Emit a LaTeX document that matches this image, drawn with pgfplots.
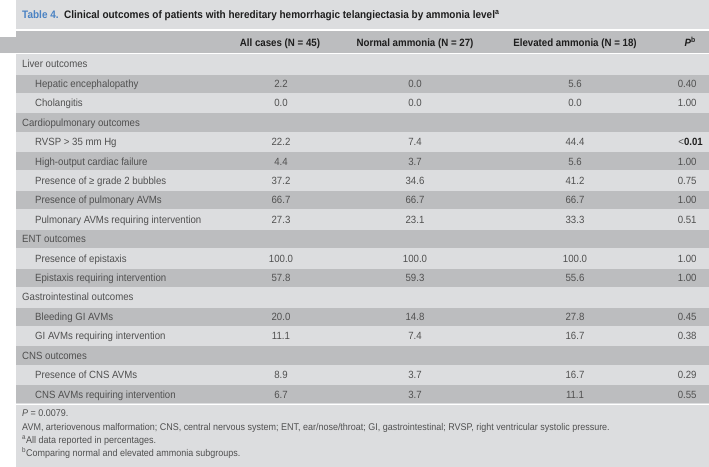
\documentclass[border=0pt]{standalone}
\usepackage{pgfplots}
\pgfplotsset{compat=1.18}
\usepackage{pgfplotstable}
\usepackage{fontspec}
\setmainfont[FakeStretch=0.92]{Liberation Sans}
\definecolor{bandL}{HTML}{DCDDDF}
\definecolor{bandD}{HTML}{BCBDBF}
\definecolor{txt}{HTML}{505050}
\definecolor{hdr}{HTML}{1E1E1E}
\definecolor{blueT}{HTML}{4A82C3}

% row index (0 = first row under the header), values in percent, P value
\pgfplotstableread{
row all normal elevated p
1 2.2 0.0 5.6 0.40
2 0.0 0.0 0.0 1.00
4 22.2 7.4 44.4 0.01
5 4.4 3.7 5.6 1.00
6 37.2 34.6 41.2 0.75
7 66.7 66.7 66.7 1.00
8 27.3 23.1 33.3 0.51
10 100.0 100.0 100.0 1.00
11 57.8 59.3 55.6 1.00
13 20.0 14.8 27.8 0.45
14 11.1 7.4 16.7 0.38
16 8.9 3.7 16.7 0.29
17 6.7 3.7 11.1 0.55
}\datatable

\newcommand{\bodyfont}{\fontsize{10.5}{12}\selectfont}
\newcommand{\notefont}{\fontsize{9.8}{11}\selectfont}

\begin{document}
\begin{tikzpicture}
\begin{axis}[
  scale only axis, width=709bp, height=467bp,
  xmin=0, xmax=709, ymin=0, ymax=467, y dir=reverse,
  axis lines=none, xtick=\empty, ytick=\empty, clip=false,
  /pgf/number format/assume math mode=true,
  every node near coord/.append style={font=\bodyfont, text=txt, anchor=base},
]
% backgrounds
\fill[white] (0,0) rectangle (709,467);
\fill[bandL] (16,0) rectangle (709,29.5);
\fill[bandD] (16,31) rectangle (709,53.5);
\fill[bandD] (0,37) rectangle (16,53.5);
\fill[bandL] (16,54.5) rectangle (709,404);
\pgfplotsinvokeforeach{1,3,5,7,9,11,13,15,17}{
  \fill[bandD] (16,{54.5+19.42*#1+0.6}) rectangle (709,{54.5+19.42*(#1+1)-0.6});
}
\fill[bandL] (16,405) rectangle (709,467);

% data columns
\addplot[draw=none, mark=none, point meta=explicit,
  nodes near coords={\pgfmathprintnumber[fixed,fixed zerofill,precision=1]{\pgfplotspointmeta}}]
  table[x expr=281, y expr={67.9+19.42*\thisrow{row}}, meta=all] {\datatable};
\addplot[draw=none, mark=none, point meta=explicit,
  nodes near coords={\pgfmathprintnumber[fixed,fixed zerofill,precision=1]{\pgfplotspointmeta}}]
  table[x expr=415, y expr={67.9+19.42*\thisrow{row}}, meta=normal] {\datatable};
\addplot[draw=none, mark=none, point meta=explicit,
  nodes near coords={\pgfmathprintnumber[fixed,fixed zerofill,precision=1]{\pgfplotspointmeta}}]
  table[x expr=575, y expr={67.9+19.42*\thisrow{row}}, meta=elevated] {\datatable};
\addplot[draw=none, mark=none, point meta=explicit, skip coords between index={2}{3},
  every node near coord/.append style={anchor=base east},
  nodes near coords={\pgfmathprintnumber[fixed,fixed zerofill,precision=2]{\pgfplotspointmeta}}]
  table[x expr=700, y expr={67.9+19.42*\thisrow{row}}, meta=p] {\datatable};
\node[anchor=base east, font=\bodyfont, text=txt, inner sep=0pt] at (axis cs:703,{67.9+19.42*4}) {<\textcolor{hdr}{\bfseries 0.01}};

% title
\node[anchor=base west, font=\fontsize{10.9}{12}\selectfont\bfseries, text=hdr, inner sep=0pt]
  at (axis cs:22,18.8) {\textcolor{blueT}{Table 4.}\ \ Clinical outcomes of patients with hereditary hemorrhagic telangiectasia by ammonia level\textsuperscript{a}};

% header
\begin{scope}[every node/.style={anchor=base, font=\fontsize{10.6}{12}\selectfont\bfseries, text=hdr, inner sep=0pt}]
\node at (axis cs:280,46.5) {All cases (N = 45)};
\node at (axis cs:415,46.5) {Normal ammonia (N = 27)};
\node at (axis cs:575,46.5) {Elevated ammonia (N = 18)};
\node[anchor=base east] at (axis cs:696,46.5) {\itshape P\textsuperscript{\upshape b}};
\end{scope}

% row labels
\begin{scope}[every node/.style={anchor=base west, font=\bodyfont, text=txt, inner sep=0pt}]
\node at (axis cs:22,{67.9+19.42*0}) {Liver outcomes};
\node at (axis cs:35,{67.9+19.42*1}) {Hepatic encephalopathy};
\node at (axis cs:35,{67.9+19.42*2}) {Cholangitis};
\node at (axis cs:22,{67.9+19.42*3}) {Cardiopulmonary outcomes};
\node at (axis cs:35,{67.9+19.42*4}) {RVSP > 35 mm Hg};
\node at (axis cs:35,{67.9+19.42*5}) {High-output cardiac failure};
\node at (axis cs:35,{67.9+19.42*6}) {Presence of ≥ grade 2 bubbles};
\node at (axis cs:35,{67.9+19.42*7}) {Presence of pulmonary AVMs};
\node at (axis cs:35,{67.9+19.42*8}) {Pulmonary AVMs requiring intervention};
\node at (axis cs:22,{67.9+19.42*9}) {ENT outcomes};
\node at (axis cs:35,{67.9+19.42*10}) {Presence of epistaxis};
\node at (axis cs:35,{67.9+19.42*11}) {Epistaxis requiring intervention};
\node at (axis cs:22,{67.9+19.42*12}) {Gastrointestinal outcomes};
\node at (axis cs:35,{67.9+19.42*13}) {Bleeding GI AVMs};
\node at (axis cs:35,{67.9+19.42*14}) {GI AVMs requiring intervention};
\node at (axis cs:22,{67.9+19.42*15}) {CNS outcomes};
\node at (axis cs:35,{67.9+19.42*16}) {Presence of CNS AVMs};
\node at (axis cs:35,{67.9+19.42*17}) {CNS AVMs requiring intervention};
\end{scope}

% footnotes
\begin{scope}[every node/.style={anchor=base west, font=\notefont, text=txt, inner sep=0pt}]
\node at (axis cs:22,416.5) {\itshape P\upshape\ = 0.0079.};
\node at (axis cs:22,430) {AVM, arteriovenous malformation; CNS, central nervous system; ENT, ear/nose/throat; GI, gastrointestinal; RVSP, right ventricular systolic pressure.};
\node at (axis cs:22,443) {\textsuperscript{a}All data reported in percentages.};
\node at (axis cs:22,456) {\textsuperscript{b}Comparing normal and elevated ammonia subgroups.};
\end{scope}
\end{axis}
\end{tikzpicture}
\end{document}
